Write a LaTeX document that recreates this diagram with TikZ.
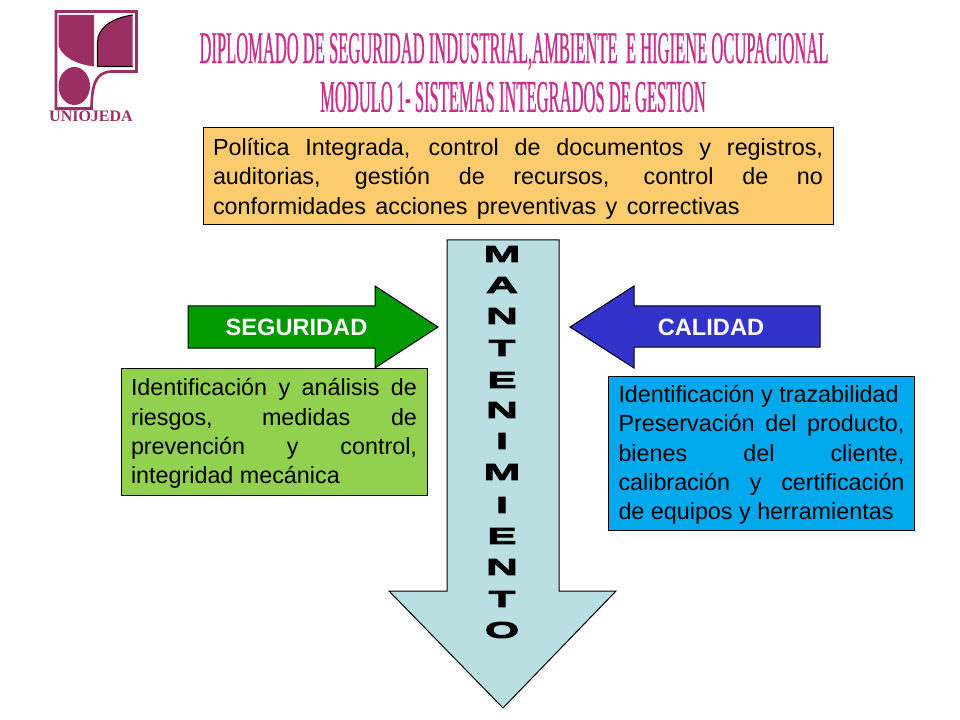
\documentclass[tikz,border=0pt]{standalone}
\usepackage{fontspec}
\setmainfont{Liberation Sans}
\newfontfamily\titlefont[FakeStretch=0.365,FakeBold=0.6]{Liberation Serif}
\newfontfamily\logofont{Liberation Serif}
\newfontfamily\wideblack[FakeStretch=1.95,FakeBold=4]{Liberation Sans Bold}
\definecolor{logomag}{HTML}{9B2F63}
\definecolor{titlemag}{HTML}{C8308C}
\definecolor{cajanaranja}{HTML}{FBCB6E}
\definecolor{cajaverde}{HTML}{92D050}
\definecolor{cajaazul}{HTML}{00A8EC}
\definecolor{flechaceleste}{HTML}{B9DFE3}
\definecolor{flechaverde}{HTML}{009900}
\definecolor{flechaazul}{HTML}{3333CC}
\newcommand{\renglon}[1]{\makebox[\hsize][s]{#1}\\}
\newcommand{\bajar}{\rule{0pt}{16pt}}

\begin{document}
\begin{tikzpicture}[x=0.75pt,y=-0.75pt]
            \tikzset{line/.style={line width=0.75pt,draw=black}};
            \tikzset{infobox/.style={line,inner xsep=7.5pt,inner ysep=0pt,align=justify,font=\fontsize{17.5}{22}\selectfont}};
            \tikzset{arrowlabel/.style={text=white,font=\fontsize{17.7}{20}\selectfont\bfseries}};
            \tikzset{titleline/.style={text=titlemag,font=\fontsize{34}{36}\selectfont\titlefont}};
            \tikzset{letra/.style={font=\fontsize{17}{20}\selectfont\wideblack}};

            \useasboundingbox (0,0) rectangle (960,720);

            % logo
            \draw[logomag,line width=2pt] (56,11.5) -- (136.5,11.5) -- (136.5,71.5) -- (112,71.5)
                .. controls (95,72) and (92,85) .. (91.5,108.5) -- (56,108.5) -- cycle;
            \fill[logomag] (58.5,15) -- (94,15) -- (94,66.5) .. controls (75,64) and (63,57) .. (58.5,46) -- cycle;
            \fill[logomag] (97.5,66.5) -- (132.5,66.5) -- (132.5,15) .. controls (112,18) and (97.5,28) .. (97.5,42) -- cycle;
            \draw[black,line width=0.8pt] (132.5,15) .. controls (112,18) and (97.5,28) .. (97.5,42) -- (97.5,66.5) -- (132.5,66.5);
            \fill[logomag] (74.3,86) ellipse [x radius=15.7,y radius=19];
            \node[text=logomag,font=\fontsize{12}{14}\selectfont\logofont\bfseries] (uniojeda) at (91,116.5) {UNIOJEDA};

            % titulos
            \node[titleline] (titulo) at (514,51.5) {DIPLOMADO DE SEGURIDAD INDUSTRIAL,AMBIENTE\ \ E HIGIENE OCUPACIONAL};
            \node[titleline] (modulo) at (513,97) {MODULO 1- SISTEMAS INTEGRADOS DE GESTION};

            \node[infobox,fill=cajanaranja,text width=457.5pt,minimum height=72.75pt] (politica) at (518,176.5)
                {\bajar\renglon{Política Integrada, control de documentos y registros,}
                 \renglon{auditorias, gestión de recursos, control de no}
                 \makebox[395pt][s]{conformidades acciones preventivas y correctivas}};

            % flecha central
            \draw[line,fill=flechaceleste] (447,240) -- (559,240) -- (559,591) -- (616,591) -- (503,708) -- (389,591) -- (447,591) -- cycle;
            \foreach \ltr/\ypos in {M/254,A/285,N/316,T/348,E/380,N/410,I/441,M/472,I/505,E/536,N/567,T/599,O/630}
                \node[letra] (l\ypos) at (502,\ypos) {\ltr};

            \draw[line,fill=flechaverde] (188,306) -- (375,306) -- (375,286) -- (438,327) -- (375,368) -- (375,348) -- (188,348) -- cycle;
            \node[arrowlabel] (seguridad) at (296.5,327) {SEGURIDAD};

            \draw[line,fill=flechaazul] (820,306) -- (634,306) -- (634,286) -- (570,327) -- (634,368) -- (634,347) -- (820,347) -- cycle;
            \node[arrowlabel] (calidad) at (711,327) {CALIDAD};

            \node[infobox,fill=cajaverde,text width=214.5pt,minimum height=95.25pt] (riesgos) at (274,431.5)
                {\bajar\renglon{Identificación y análisis de}
                 \renglon{riesgos, medidas de}
                 \renglon{prevención y control,}
                 integridad mecánica};
            \node[infobox,fill=cajaazul,text width=214.5pt,minimum height=115.5pt] (producto) at (761.5,453)
                {\bajar Identificación y trazabilidad\\
                 \renglon{Preservación del producto,}
                 \renglon{bienes del cliente,}
                 \renglon{calibración y certificación}
                 de equipos y herramientas};
        \end{tikzpicture}
\end{document}
